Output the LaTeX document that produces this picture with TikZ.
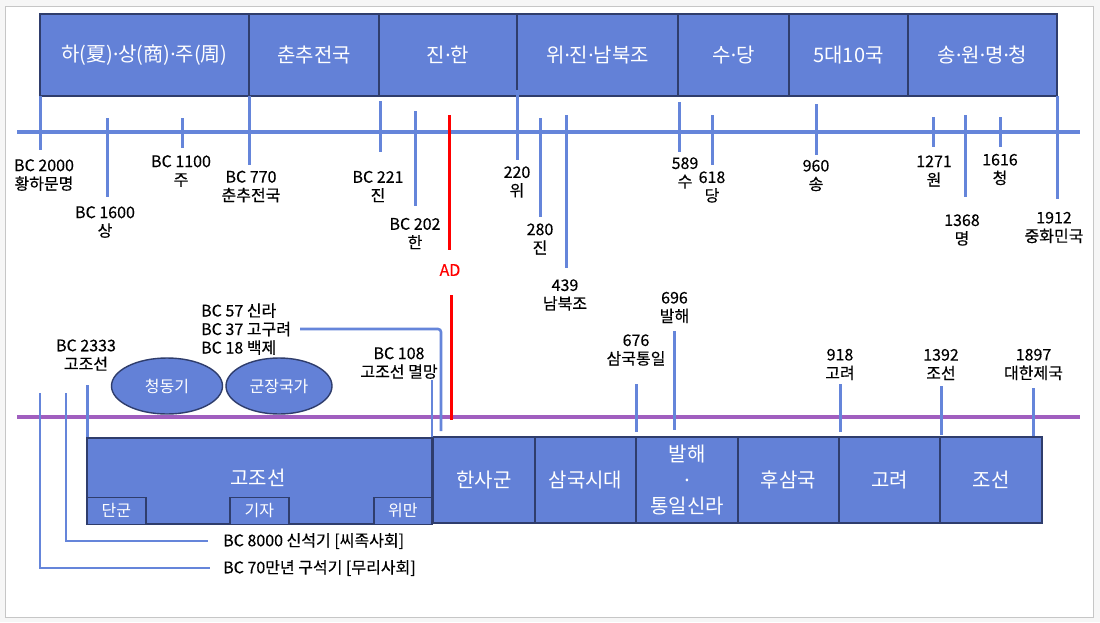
\documentclass[tikz,border=0pt]{standalone}
\usepackage{fontspec}
\setmainfont{Noto Sans CJK KR}
\newfontfamily\lblfont[FakeBold=0.35]{Noto Sans CJK KR}
\newfontfamily\dotfont{Noto Sans}
\newcommand\mdot{{\dotfont ·}}
\usetikzlibrary{shapes.geometric}
\definecolor{boxblue}{HTML}{6381D7}
\definecolor{boxedge}{HTML}{2F3D6C}
\definecolor{tickblue}{HTML}{6585DA}
\definecolor{purp}{HTML}{A05EBF}
\definecolor{adred}{HTML}{FF0000}
\tikzset{
  era/.style={draw=boxedge, line width=1.6pt, fill=boxblue, text=white,
    font=\fontsize{20}{26}\selectfont, inner sep=0pt, align=center},
  subera/.style={draw=boxedge, line width=1.6pt, fill=boxblue, text=white,
    font=\fontsize{16}{18}\selectfont, inner sep=0pt},
  blob/.style={ellipse, draw=boxedge, line width=1.4pt, fill=boxblue, text=white,
    font=\fontsize{16}{18}\selectfont, inner sep=0pt},
  lbl/.style={font=\lblfont\fontsize{16}{18.5}\selectfont, align=center, inner sep=0pt},
  tickline/.style={draw=tickblue, line width=3pt},
  axisline/.style={draw=tickblue, line width=3.5pt},
  purpline/.style={draw=purp, line width=3.5pt},
  redline/.style={draw=adred, line width=3pt},
}
\begin{document}
\begin{tikzpicture}[x=1pt,y=-1pt]
\fill[gray!7] (0,0) rectangle (1100,622);
\draw[gray!45, fill=white] (5.5,6.5) rectangle (1093.5,617);
\useasboundingbox (0,0) rectangle (1100,622);

% top era boxes
\foreach \a/\b/\t [count=\i] in {40/249/{하(夏)\mdot 상(商)\mdot 주(周)}, 249/379/{춘추전국}, 379/517/{진\mdot 한},
    517/678/{위\mdot 진\mdot 남북조}, 678/789/{수\mdot 당}, 789/908/{5대10국}, 908/1057/{송\mdot 원\mdot 명\mdot 청}}{
  \pgfmathsetmacro\w{\b-\a}
  \pgfmathsetmacro\c{(\a+\b)/2}
  \node[era, minimum width=\w pt, minimum height=82pt] (top\i) at (\c,55) {\t};
}

% top axis
\coordinate (axL) at (17,132);
\coordinate (axR) at (1080,132);
\draw[axisline] (axL) -- (axR);

% top ticks
\foreach \x/\p/\q [count=\i] in {40/96/150, 107/118/197, 182/118/148, 249/96/165, 380/101/152,
    415/111/206, 517/90/160, 540/118/217, 566/115/268, 679/102/152, 712/115/165, 816/104/155,
    933/117/147, 965/115/197, 1000/117/147, 1057/96/199}{
  \coordinate (ta\i) at (\x,\p);
  \coordinate (tb\i) at (\x,\q);
  \draw[tickline] (ta\i) -- (tb\i);
}

% top labels
\foreach \x/\y/\t [count=\i] in {44/175/{BC 2000\\황하문명}, 105/222/{BC 1600\\상}, 181/171/{BC 1100\\주},
    251/186.5/{BC 770\\춘추전국}, 378/186.5/{BC 221\\진}, 415/233.5/{BC 202\\한},
    517/182/{220\\위}, 540/239/{280\\진}, 565/295/{439\\남북조}, 685/173/{589\\수},
    712/187/{618\\당}, 816/175.5/{960\\송}, 934/171/{1271\\원}, 962/230/{1368\\명},
    1000/169.5/{1616\\청}, 1054/227.5/{1912\\중화민국}}{
  \node[lbl] (tl\i) at (\x,\y) {\t};
}

% AD line
\coordinate (ad1) at (449,115);
\coordinate (ad2) at (449,250);
\coordinate (ad3) at (451,295);
\coordinate (ad4) at (451,420);
\draw[redline] (ad1) -- (ad2);
\node[lbl, text=adred] (adlbl) at (450,270) {AD};

% purple axis
\coordinate (puL) at (17,417);
\coordinate (puR) at (1080,417);
\draw[purpline] (puL) -- (puR);
\draw[redline] (ad3) -- (ad4);

% bottom boxes
\node[era, minimum width=345pt, minimum height=86pt, anchor=north west] (gojo) at (86,437) {};
\node[era, draw=none, fill=none] (gojot) at (258,478) {고조선};
\node[subera, minimum width=59pt, minimum height=27pt, anchor=north west] (dangun) at (86,496.5) {단군};
\node[subera, minimum width=59pt, minimum height=27pt, anchor=north west] (gija) at (229,496.5) {기자};
\node[subera, minimum width=58pt, minimum height=27pt, anchor=north west] (wiman) at (373,496.5) {위만};

\foreach \a/\b/\t [count=\i] in {433/535/{한사군}, 535/636/{삼국시대}, 636/738/{발해\\\mdot\\통일신라},
    738/839/{후삼국}, 839/940/{고려}, 940/1042/{조선}}{
  \pgfmathsetmacro\w{\b-\a}
  \pgfmathsetmacro\c{(\a+\b)/2}
  \node[era, minimum width=\w pt, minimum height=86pt] (bot\i) at (\c,480) {\t};
}

% ellipses
\node[blob, minimum width=111pt, minimum height=56pt] (bronze) at (167,386) {청동기};
\node[blob, minimum width=106pt, minimum height=56pt] (chief) at (279,386) {군장국가};

% lower-left labels and ticks
\node[lbl] (l2333) at (86,355) {BC 2333\\고조선};
\coordinate (k1a) at (87,385);
\draw[tickline] (k1a) -- (gojo.north west -| k1a);

\coordinate (k2a) at (66,393);
\coordinate (k2b) at (66,541);
\coordinate (k2c) at (208,541);
\draw[tickline, line width=2.6pt] (k2a) -- (k2b) -- (k2c);
\node[lbl, anchor=west] (l8000) at (223,541) {BC 8000 신석기 [씨족사회]};

\coordinate (k3a) at (40,393);
\coordinate (k3b) at (40,568);
\coordinate (k3c) at (210,568);
\draw[tickline, line width=2.6pt] (k3a) -- (k3b) -- (k3c);
\node[lbl, anchor=west] (l70) at (223,568) {BC 70만년 구석기 [무리사회]};

\node[lbl, align=left, anchor=west] (lthree) at (201,329) {BC 57 신라\\BC 37 고구려\\BC 18 백제};
\coordinate (k4a) at (300,329);
\coordinate (k4b) at (441,329);
\coordinate (k4c) at (441,431);
\draw[tickline, line width=2.6pt, rounded corners=3pt] (k4a) -- (k4b) -- (k4c);

\node[lbl] (l108) at (399,363) {BC 108\\고조선 멸망};
\coordinate (k5a) at (432,380);
\coordinate (k5b) at (432,437);
\draw[tickline, line width=2.6pt] (k5a) -- (k5b);

% lower-right labels and ticks
\foreach \x/\y/\p/\q/\t [count=\i] in {636/350/384/432/{676\\삼국통일}, 674.5/307.5/331/430/{696\\발해},
    840/364.5/384/432/{918\\고려}, 941/364.5/386/435/{1392\\조선}, 1033.5/364.5/388/436/{1897\\대한제국}}{
  \node[lbl] (br\i) at (\x,\y) {\t};
  \coordinate (ba\i) at (\x,\p);
  \coordinate (bb\i) at (\x,\q);
  \draw[tickline] (ba\i) -- (bb\i);
}
\end{tikzpicture}
\end{document}
